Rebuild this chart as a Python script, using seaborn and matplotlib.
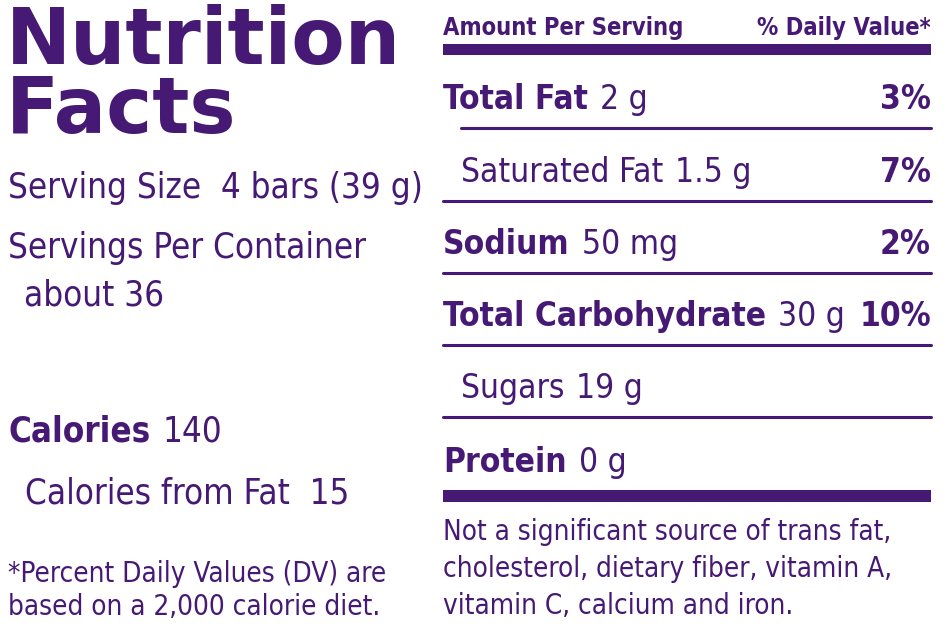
import matplotlib.pyplot as plt
import seaborn as sns

sns.set_theme(style="white")
plt.rcParams['font.family'] = ['DejaVu Sans']

PURPLE = '#461a74'

# nutrient rows: name, amount, % daily value, bold name, indented
names = ['Total Fat', 'Saturated Fat', 'Sodium', 'Total Carbohydrate', 'Sugars', 'Protein']
amounts = ['2 g', '1.5 g', '50 mg', '30 g', '19 g', '0 g']
dv = ['3%', '7%', '2%', '10%', '', '']
bold = [True, False, True, True, False, True]
indent = [False, True, False, False, True, False]

serving_size = 'Serving Size  4 bars (39 g)'
servings = ['Servings Per Container', 'about 36']
calories = '140'
calories_fat = 'Calories from Fat  15'
footnote_left = ['*Percent Daily Values (DV) are', 'based on a 2,000 calorie diet.']
footnote_right = ['Not a significant source of trans fat,',
                  'cholesterol, dietary fiber, vitamin A,',
                  'vitamin C, calcium and iron.']

fig = plt.figure(figsize=(9.5, 6.41), dpi=100)
ax = fig.add_axes([0, 0, 1, 1])
ax.set_xlim(0, 950)
ax.set_ylim(641, 0)
ax.axis('off')

cond = dict(fontstretch='condensed', color=PURPLE, va='baseline')


def right_of(txt, gap):
    fig.canvas.draw()
    bb = txt.get_window_extent().transformed(ax.transData.inverted())
    return bb.x1 + gap


# title
ax.text(6, 64, 'Nutrition', fontsize=56, fontweight='black', color=PURPLE, va='baseline')
ax.text(6, 133, 'Facts', fontsize=56, fontweight='black', color=PURPLE, va='baseline')

ax.text(8, 198, serving_size, fontsize=25, **cond)
ax.text(8, 258, servings[0], fontsize=25, **cond)
ax.text(24, 305, servings[1], fontsize=25, **cond)
t = ax.text(8, 442, 'Calories', fontsize=25, fontweight='bold', **cond)
ax.text(right_of(t, 12), 442, calories, fontsize=25, **cond)
ax.text(25, 503, calories_fat, fontsize=25, **cond)
for i, line in enumerate(footnote_left):
    ax.text(8, 582 + 33 * i, line, fontsize=20, **cond)

# right panel
x0, x1 = 443, 931
ax.text(x0, 35, 'Amount Per Serving', fontsize=17, fontweight='bold', **cond)
ax.text(x1, 35, '% Daily Value*', fontsize=17, fontweight='bold', ha='right',
        fontstretch='condensed', color=PURPLE, va='baseline')
ax.fill_between([x0, x1], 44, 55, color=PURPLE, lw=0)

baselines = [109, 182, 254, 326, 398, 472]
rules = [128, 201, 273, 345, 417]
rule_indent = [True, False, False, False, False]
for i in range(len(names)):
    xs = x0 + (18 if indent[i] else 0)
    name = ax.text(xs, baselines[i], names[i], fontsize=24,
                   fontweight='bold' if bold[i] else 'normal', **cond)
    ax.text(right_of(name, 12), baselines[i], amounts[i], fontsize=24, **cond)
    if dv[i]:
        ax.text(x1, baselines[i], dv[i], fontsize=24, fontweight='bold', ha='right',
                fontstretch='condensed', color=PURPLE, va='baseline')
for y, ind in zip(rules, rule_indent):
    ax.plot([x0 + (18 if ind else 0), x1], [y, y], color=PURPLE, lw=2.2)
ax.fill_between([x0, x1], 490, 502, color=PURPLE, lw=0)

for i, line in enumerate(footnote_right):
    ax.text(x0, 540 + 37 * i, line, fontsize=20, **cond)

fig.savefig('out.png', dpi=100, facecolor='white')
